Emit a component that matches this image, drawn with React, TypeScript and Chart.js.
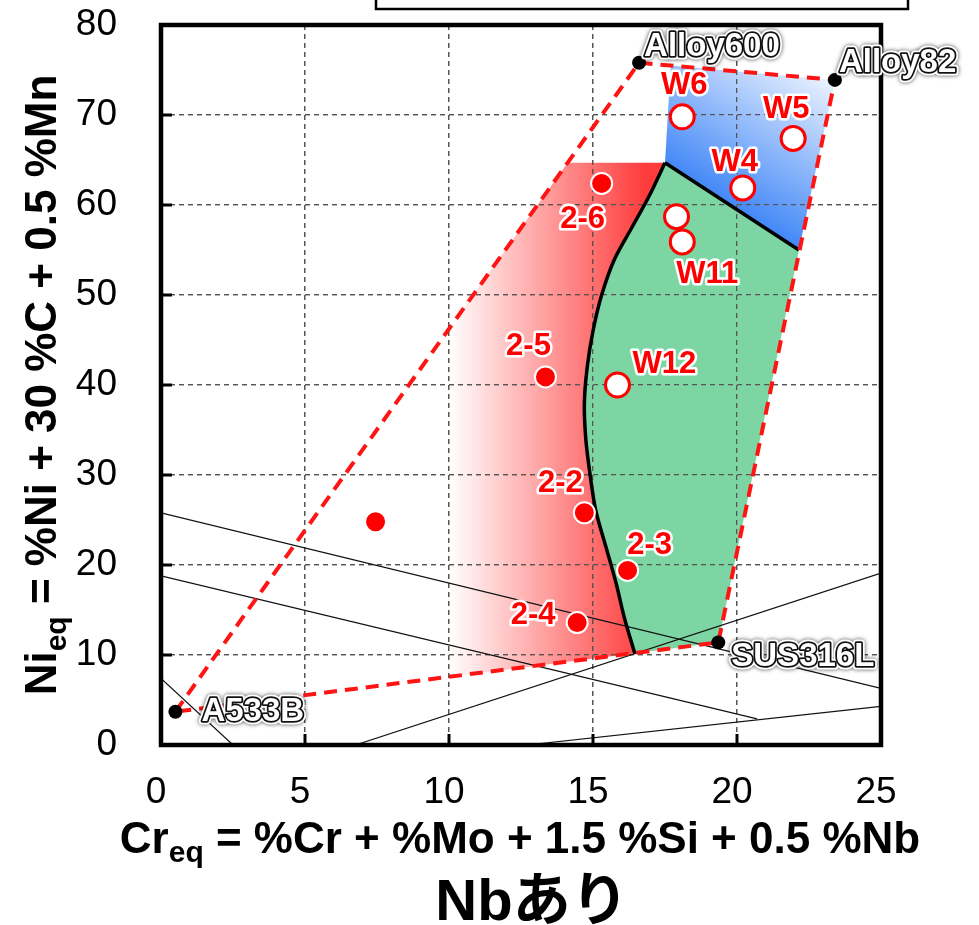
import React, { useEffect, useRef } from 'react';
import { Chart, registerables } from 'chart.js';

Chart.register(...registerables);

// ---- axes ----
const X_TICKS = [0, 5, 10, 15, 20, 25];
const Y_TICKS = [0, 10, 20, 30, 40, 50, 60, 70, 80];

// ---- reference alloys (black dots) ----
const refNames = ['A533B', 'Alloy600', 'Alloy82', 'SUS316L'];
const refCr = [0.5, 16.6, 23.4, 19.35];
const refNi = [3.7, 75.8, 73.9, 11.4];

// ---- dilution envelope (red dashed) ----
const envelopeCr = [0.5, 16.6, 23.4, 19.35, 0.5];
const envelopeNi = [3.7, 75.8, 73.9, 11.4, 3.7];

// ---- boundary curve (black) ----
const curveCr = [17.5, 16.95, 16.35, 15.75, 15.3, 15.0, 14.8, 14.7, 14.75, 14.9, 15.1, 15.45, 15.8, 16.1, 16.45];
const curveNi = [64.7, 61.0, 57.5, 54.0, 50.0, 46.0, 42.0, 38.0, 34.0, 30.0, 26.0, 22.0, 18.0, 14.0, 10.2];

// ---- green / blue boundary line ----
const splitCr = [17.5, 22.15];
const splitNi = [64.7, 55.0];

// ---- regions ----
const redRegionCr = [14.12, 17.5, 16.95, 16.35, 15.75, 15.3, 15.0, 14.8, 14.7, 14.75, 14.9, 15.1, 15.45, 15.8, 16.1, 16.45, 0.5, 14.12];
const redRegionNi = [64.7, 64.7, 61.0, 57.5, 54.0, 50.0, 46.0, 42.0, 38.0, 34.0, 30.0, 26.0, 22.0, 18.0, 14.0, 10.2, 3.7, 64.7];
const greenRegionCr = [17.5, 16.95, 16.35, 15.75, 15.3, 15.0, 14.8, 14.7, 14.75, 14.9, 15.1, 15.45, 15.8, 16.1, 16.45, 19.35, 22.15, 17.5];
const greenRegionNi = [64.7, 61.0, 57.5, 54.0, 50.0, 46.0, 42.0, 38.0, 34.0, 30.0, 26.0, 22.0, 18.0, 14.0, 10.2, 11.4, 55.0, 64.7];
const blueRegionCr = [17.5, 22.15, 23.4, 17.7, 17.5];
const blueRegionNi = [64.7, 55.0, 73.9, 75.49, 64.7];

// ---- thin phase lines ----
const phase1Cr = [0, 25];
const phase1Ni = [25.8, 6.3];
const phase2Cr = [0, 20.7];
const phase2Ni = [18.8, 2.9];
const phase3Cr = [6.75, 25];
const phase3Ni = [0, 19.1];
const phase4Cr = [12.7, 25];
const phase4Ni = [0, 4.3];
const phase5Cr = [0, 2.5];
const phase5Ni = [7.4, 0];

// ---- welds: red filled ----
const redNames = ['', '2-5', '2-2', '2-3', '2-4', '2-6'];
const redCr = [7.45, 13.35, 14.7, 16.2, 14.45, 15.3];
const redNi = [24.8, 40.9, 25.8, 19.4, 13.6, 62.4];

// ---- welds: white filled ----
const whiteNames = ['W12', 'W6', 'W5', 'W4', 'W11', ''];
const whiteCr = [15.85, 18.1, 21.95, 20.2, 18.1, 17.9];
const whiteNi = [40.0, 69.8, 67.4, 61.9, 55.9, 58.7];

// ---- texts ----
const X_TITLE_MAIN = 'Cr';
const X_TITLE_SUB = 'eq';
const X_TITLE_REST = ' = %Cr + %Mo + 1.5 %Si + 0.5 %Nb';
const Y_TITLE_MAIN = 'Ni';
const Y_TITLE_SUB = 'eq';
const Y_TITLE_REST = ' = %Ni + 30 %C + 0.5 %Mn';
const CAPTION = 'Nbあり';

// label pixel offsets (style)
const RED_LABEL_OFF: Record<string, [number, number]> = {
  '2-5': [-17, -30], '2-2': [-24, -29], '2-3': [22, -25], '2-4': [-44, -7], '2-6': [-19, 36],
};
const WHITE_LABEL_OFF: Record<string, [number, number]> = {
  W12: [47, -21], W6: [2, -31], W5: [-7, -29], W4: [-8, -25], W11: [25, 33],
};
const REF_LABEL_OFF: Record<string, [number, number]> = {
  A533B: [26, 0], Alloy600: [5, -16], Alloy82: [4, -17], SUS316L: [13, 15],
};

const FONT = "'Liberation Sans', Arial, 'Noto Sans CJK JP', sans-serif";

const pts = (xs: number[], ys: number[]) => xs.map((x, i) => ({ x, y: ys[i] }));

export default function App() {
  const ref = useRef<HTMLCanvasElement>(null);

  useEffect(() => {
    const canvas = ref.current!;

    const redGrad = (c: any) => {
      const chart = c.chart;
      if (!chart.chartArea) return 'rgba(255,60,60,0.5)';
      const xs = chart.scales.x;
      const g = chart.ctx.createLinearGradient(xs.getPixelForValue(10), 0, xs.getPixelForValue(16.8), 0);
      g.addColorStop(0, 'rgba(255,60,60,0)');
      g.addColorStop(1, 'rgba(255,60,60,1)');
      return g;
    };
    const blueGrad = (c: any) => {
      const chart = c.chart;
      if (!chart.chartArea) return 'rgba(60,130,245,0.6)';
      const xs = chart.scales.x;
      const ys = chart.scales.y;
      const g = chart.ctx.createLinearGradient(
        xs.getPixelForValue(20), ys.getPixelForValue(58),
        xs.getPixelForValue(23.2), ys.getPixelForValue(74)
      );
      g.addColorStop(0, 'rgb(55,128,246)');
      g.addColorStop(1, 'rgb(235,243,255)');
      return g;
    };

    const region = (data: any, bg: any) => ({
      data, fill: 'shape', backgroundColor: bg, borderWidth: 0, borderColor: 'transparent',
      pointRadius: 0, tension: 0, order: 10, region: true,
    });
    const thin = (data: any) => ({
      data, borderColor: '#111', borderWidth: 1.2, pointRadius: 0, fill: false, order: 6,
    });

    const drawOutlined = (ctx: CanvasRenderingContext2D, t: string, x: number, y: number) => {
      ctx.save();
      ctx.lineJoin = 'round';
      ctx.shadowColor = 'rgba(0,0,0,0.7)';
      ctx.shadowBlur = 4;
      ctx.strokeStyle = '#fff';
      ctx.lineWidth = 7;
      ctx.strokeText(t, x, y);
      ctx.restore();
      ctx.save();
      ctx.lineJoin = 'round';
      ctx.strokeStyle = '#111';
      ctx.lineWidth = 3.5;
      ctx.strokeText(t, x, y);
      ctx.fillStyle = '#fff';
      ctx.fillText(t, x, y);
      ctx.restore();
    };
    const drawRedLabel = (ctx: CanvasRenderingContext2D, t: string, x: number, y: number) => {
      ctx.save();
      ctx.lineJoin = 'round';
      ctx.strokeStyle = '#fff';
      ctx.lineWidth = 5;
      ctx.strokeText(t, x, y);
      ctx.fillStyle = '#ff0000';
      ctx.fillText(t, x, y);
      ctx.restore();
    };

    const decor = {
      id: 'decor',
      beforeDatasetsDraw(chart: any) {
        chart.$gridDone = false;
      },
      beforeDatasetDraw(chart: any, args: any) {
        const ds = chart.data.datasets[args.index] as any;
        if (!ds.region && !chart.$gridDone) {
          chart.scales.x.drawGrid(chart.chartArea);
          chart.scales.y.drawGrid(chart.chartArea);
          chart.$gridDone = true;
        }
      },
      afterDatasetsDraw(chart: any) {
        const ctx: CanvasRenderingContext2D = chart.ctx;
        const { left, right, top, bottom } = chart.chartArea;
        const xs = chart.scales.x;
        const ys = chart.scales.y;
        // inward ticks
        ctx.save();
        ctx.strokeStyle = '#000';
        ctx.lineWidth = 3;
        X_TICKS.forEach((v) => {
          const px = xs.getPixelForValue(v);
          ctx.beginPath();
          ctx.moveTo(px, bottom);
          ctx.lineTo(px, bottom - 11);
          ctx.stroke();
        });
        Y_TICKS.forEach((v) => {
          const py = ys.getPixelForValue(v);
          ctx.beginPath();
          ctx.moveTo(left, py);
          ctx.lineTo(left + 11, py);
          ctx.stroke();
        });
        // frame
        ctx.lineWidth = 4.5;
        ctx.strokeRect(left, top, right - left, bottom - top);
        ctx.restore();

        // labels
        ctx.save();
        ctx.font = `bold 31px ${FONT}`;
        ctx.textBaseline = 'middle';
        ctx.textAlign = 'center';
        redNames.forEach((n, i) => {
          if (!n) return;
          const o = RED_LABEL_OFF[n] || [0, -28];
          drawRedLabel(ctx, n, xs.getPixelForValue(redCr[i]) + o[0], ys.getPixelForValue(redNi[i]) + o[1]);
        });
        whiteNames.forEach((n, i) => {
          if (!n) return;
          const o = WHITE_LABEL_OFF[n] || [0, -28];
          drawRedLabel(ctx, n, xs.getPixelForValue(whiteCr[i]) + o[0], ys.getPixelForValue(whiteNi[i]) + o[1]);
        });
        ctx.font = `bold 33px ${FONT}`;
        ctx.textAlign = 'left';
        refNames.forEach((n, i) => {
          const o = REF_LABEL_OFF[n] || [6, -16];
          drawOutlined(ctx, n, xs.getPixelForValue(refCr[i]) + o[0], ys.getPixelForValue(refNi[i]) + o[1]);
        });
        ctx.restore();
      },
      afterDraw(chart: any) {
        const ctx: CanvasRenderingContext2D = chart.ctx;
        ctx.save();
        ctx.fillStyle = '#000';
        ctx.textBaseline = 'alphabetic';
        ctx.textAlign = 'left';
        const big = `bold 44px ${FONT}`;
        const sub = `bold 30px ${FONT}`;
        // x title
        ctx.font = big;
        const wM = ctx.measureText(X_TITLE_MAIN).width;
        const wR = ctx.measureText(X_TITLE_REST).width;
        ctx.font = sub;
        const wS = ctx.measureText(X_TITLE_SUB).width;
        const x0 = 520 - (wM + wS + wR) / 2;
        const by = 853;
        ctx.font = big;
        ctx.fillText(X_TITLE_MAIN, x0, by);
        ctx.font = sub;
        ctx.fillText(X_TITLE_SUB, x0 + wM, by + 9);
        ctx.font = big;
        ctx.fillText(X_TITLE_REST, x0 + wM + wS, by);

        // y title (rotated)
        ctx.save();
        ctx.translate(56, 385);
        ctx.rotate(-Math.PI / 2);
        ctx.font = big;
        const yM = ctx.measureText(Y_TITLE_MAIN).width;
        const yR = ctx.measureText(Y_TITLE_REST).width;
        ctx.font = sub;
        const yS = ctx.measureText(Y_TITLE_SUB).width;
        const s0 = -(yM + yS + yR) / 2;
        ctx.font = big;
        ctx.fillText(Y_TITLE_MAIN, s0, 0);
        ctx.font = sub;
        ctx.fillText(Y_TITLE_SUB, s0 + yM, 10);
        ctx.font = big;
        ctx.fillText(Y_TITLE_REST, s0 + yM + yS, 0);
        ctx.restore();

        // caption
        ctx.font = `bold 58px ${FONT}`;
        ctx.textAlign = 'center';
        ctx.fillText(CAPTION, 532, 920);

        // top box (clipped legend frame)
        ctx.strokeStyle = '#000';
        ctx.lineWidth = 2.5;
        ctx.strokeRect(376, -20, 532, 29);
        ctx.restore();
      },
    };

    const chart = new Chart(canvas, {
      type: 'line',
      data: {
        datasets: [
          region(pts(redRegionCr, redRegionNi), redGrad),
          region(pts(greenRegionCr, greenRegionNi), 'rgb(126,213,164)'),
          region(pts(blueRegionCr, blueRegionNi), blueGrad),
          thin(pts(phase1Cr, phase1Ni)),
          thin(pts(phase2Cr, phase2Ni)),
          thin(pts(phase3Cr, phase3Ni)),
          thin(pts(phase4Cr, phase4Ni)),
          thin(pts(phase5Cr, phase5Ni)),
          {
            data: pts(curveCr, curveNi), borderColor: '#000', borderWidth: 3.5, tension: 0.3,
            pointRadius: 0, fill: false, order: 5,
          },
          {
            data: pts(splitCr, splitNi), borderColor: '#000', borderWidth: 3.5,
            pointRadius: 0, fill: false, order: 5,
          },
          {
            data: pts(envelopeCr, envelopeNi), borderColor: '#ff1414', borderWidth: 4, borderDash: [13, 8],
            pointRadius: 0, fill: false, order: 4,
          },
          {
            data: pts(refCr, refNi), showLine: false, pointRadius: 7, pointBorderWidth: 0,
            pointBackgroundColor: '#000', pointBorderColor: '#000', order: 3,
          },
          {
            data: pts(redCr, redNi), showLine: false, pointRadius: 10.5, pointBorderWidth: 2,
            pointBackgroundColor: '#ff0000', pointBorderColor: '#fff', order: 2,
          },
          {
            data: pts(whiteCr, whiteNi), showLine: false, pointRadius: 12, pointBorderWidth: 3,
            pointBackgroundColor: '#fff', pointBorderColor: '#ff0000', order: 2,
          },
        ] as any,
      },
      options: {
        animation: false,
        responsive: false,
        devicePixelRatio: 1,
        events: [],
        layout: { padding: { top: 25, right: 98, bottom: 0, left: 0 } },
        plugins: { legend: { display: false }, tooltip: { enabled: false }, title: { display: false } },
        scales: {
          x: {
            type: 'linear', min: 0, max: 25,
            afterBuildTicks: (s: any) => { s.ticks = X_TICKS.map((v) => ({ value: v })); },
            afterFit: (s: any) => { s.height = 180; s.paddingLeft = 0; s.paddingRight = 0; },
            grid: { color: '#555', lineWidth: 1.3, drawTicks: false },
            border: { display: false, dash: [5, 4] },
            ticks: { font: { family: FONT, size: 37 }, color: '#000', padding: 26, labelOffset: -5, maxRotation: 0 },
          },
          y: {
            type: 'linear', min: 0, max: 80,
            afterBuildTicks: (s: any) => { s.ticks = Y_TICKS.map((v) => ({ value: v })); },
            afterFit: (s: any) => { s.width = 161; s.paddingTop = 0; s.paddingBottom = 0; },
            grid: { color: '#555', lineWidth: 1.3, drawTicks: false },
            border: { display: false, dash: [5, 4] },
            ticks: { font: { family: FONT, size: 37 }, color: '#000', padding: 44 },
          },
        },
      } as any,
      plugins: [decor as any],
    });
    return () => chart.destroy();
  }, []);

  return (
    <div style={{ position: 'absolute', left: 0, top: 0, width: 979, height: 925, background: '#fff' }}>
      <canvas ref={ref} width={979} height={925} style={{ display: 'block' }} />
    </div>
  );
}
